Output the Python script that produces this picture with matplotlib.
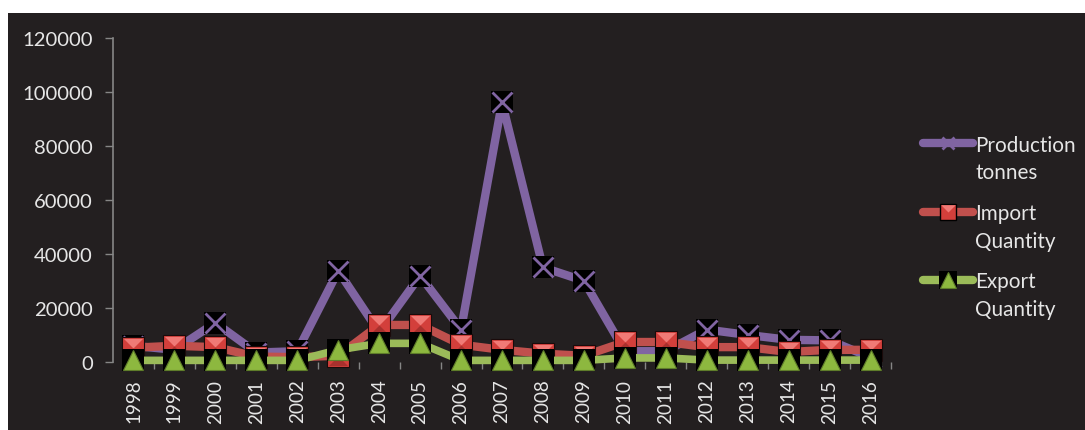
import matplotlib
matplotlib.use("Agg")
import matplotlib.pyplot as plt
import numpy as np
from matplotlib.lines import Line2D
from matplotlib.patches import Rectangle
from matplotlib.path import Path
from matplotlib.ticker import FuncFormatter

# ---- data -------------------------------------------------------------
years = [str(y) for y in range(1998, 2017)]
production = [6000, 4500, 14500, 3500, 4000, 33700, 11000, 31900, 12000, 96000,
              35000, 30000, 4000, 4000, 12000, 10000, 8200, 8000, 1700]
imports = [5300, 6000, 5500, 2000, 1800, 2300, 13700, 13700, 6400, 4500,
           3100, 2300, 7400, 7400, 5500, 5500, 3700, 4500, 4500]
exports = [600, 600, 600, 600, 600, 4500, 6900, 6900, 600, 600,
           600, 600, 1500, 1500, 700, 700, 700, 700, 700]
series_names = ["Production tonnes", "Import Quantity", "Export Quantity"]
y_ticks = [0, 20000, 40000, 60000, 80000, 100000, 120000]

# ---- style ------------------------------------------------------------
plt.rcParams['font.family'] = ['Lato', 'DejaVu Sans']
W, H, DPI = 1085, 431, 100
BG = '#231F20'
TXT = '#E6E6E6'
AXC = '#868686'
PURPLE = '#8064A2'
RED = '#C0504D'
GREEN = '#9BBB59'
MS = 15.8  # marker box, points
FS = 14.6

# bevel pieces for the square marker
top_tri = Path([(-1, 1), (1, 1), (0, 0), (-1, 1)], closed=True)
bot_tri = Path([(-1, -1), (1, -1), (0, 0), (-1, -1)], closed=True)

fig = plt.figure(figsize=(W / DPI, H / DPI), dpi=DPI, facecolor='white')
fig.add_artist(Rectangle((8 / W, 0), 1 - 8 / W, (H - 14) / H,
                         transform=fig.transFigure, facecolor=BG,
                         edgecolor='none', zorder=-10))

ax = fig.add_axes([113 / W, (H - 363) / H, (891 - 113) / W, (363 - 38.5) / H])
ax.patch.set_alpha(0)

x = np.arange(len(years))

# production: purple line, black boxes with purple crosses
ax.plot(x, production, color=PURPLE, lw=6, solid_capstyle='round',
        solid_joinstyle='round', zorder=2, clip_on=False)
ax.plot(x, production, ls='none', marker='s', ms=MS, mfc='black', mec='black',
        mew=0, zorder=2.1, clip_on=False)
ax.plot(x, production, ls='none', marker='x', ms=MS - 1, mec=PURPLE, mew=2,
        zorder=2.2, clip_on=False)

# imports: red line, bevelled red squares
ax.plot(x, imports, color=RED, lw=6, solid_capstyle='round',
        solid_joinstyle='round', zorder=3, clip_on=False)
ax.plot(x, imports, ls='none', marker='s', ms=MS, mfc='#D33F3B', mec='#1a0a0a',
        mew=0.8, zorder=3.1, clip_on=False)
ax.plot(x, imports, ls='none', marker=top_tri, ms=MS - 2, mfc='#F07A76',
        mec='none', zorder=3.2, clip_on=False)
ax.plot(x, imports, ls='none', marker=bot_tri, ms=MS - 2, mfc='#A8302D',
        mec='none', zorder=3.2, clip_on=False)

# exports: green line, black boxes with green triangles
ax.plot(x, exports, color=GREEN, lw=5.5, solid_capstyle='round',
        solid_joinstyle='round', zorder=4, clip_on=False)
ax.plot(x, exports, ls='none', marker='s', ms=MS, mfc='black', mec='black',
        mew=0, zorder=4.1, clip_on=False)
ax.plot(x, exports, ls='none', marker='^', ms=MS - 1.2, mfc='#8DB83F',
        mec='#5F7D2A', mew=0.8, zorder=4.2, clip_on=False)

# ---- axes -------------------------------------------------------------
ax.set_xlim(-0.5, len(years) - 0.5)
ax.set_ylim(y_ticks[0], y_ticks[-1])
for s in ('top', 'right', 'bottom'):
    ax.spines[s].set_visible(False)
ax.spines['left'].set_color(AXC)
ax.spines['left'].set_linewidth(1.2)

ax.set_yticks(y_ticks)
ax.yaxis.set_major_formatter(FuncFormatter(lambda v, p: f"{v:.0f}"))
ax.tick_params(axis='y', colors=AXC, length=5.5, width=1, labelcolor=TXT,
               labelsize=FS, pad=9)

ax.set_xticks(x)
ax.set_xticklabels(years, rotation=90)
ax.set_xticks(np.arange(0.5, len(years), 1.0), minor=True)
ax.tick_params(axis='x', which='major', length=0, labelcolor=TXT,
               labelsize=13.6, pad=12)
ax.tick_params(axis='x', which='minor', length=5, width=1, colors=AXC)

# ---- legend (drawn in figure pixels) -----------------------------------
def fx(px):
    return px / W


def fy(py):
    return 1 - py / H


leg_centres = [144.3, 212.7, 280.5]
leg_colors = [PURPLE, RED, GREEN]
for name, yc, col in zip(series_names, leg_centres, leg_colors):
    fig.add_artist(Line2D([fx(923), fx(973)], [fy(yc), fy(yc)],
                          transform=fig.transFigure, color=col, lw=6,
                          solid_capstyle='round'))
    for i, word in enumerate(name.split(' ')):
        fig.text(fx(975), fy(yc + 7.5 + 27.5 * i), word, ha='left',
                 va='baseline', fontsize=FS + 0.3, color=TXT)

cx = fx(948)
fig.add_artist(Line2D([cx], [fy(leg_centres[0])], transform=fig.transFigure,
                      ls='none', marker='x', ms=9, mec=PURPLE, mew=2))
fig.add_artist(Line2D([cx], [fy(leg_centres[1])], transform=fig.transFigure,
                      ls='none', marker='s', ms=12, mfc='#D33F3B',
                      mec='black', mew=1))
fig.add_artist(Line2D([cx], [fy(leg_centres[1])], transform=fig.transFigure,
                      ls='none', marker=top_tri, ms=10.5, mfc='#F07A76',
                      mec='none'))
fig.add_artist(Line2D([cx], [fy(leg_centres[2])], transform=fig.transFigure,
                      ls='none', marker='s', ms=13, mfc='black', mec='black',
                      mew=0))
fig.add_artist(Line2D([cx], [fy(leg_centres[2])], transform=fig.transFigure,
                      ls='none', marker='^', ms=11.5, mfc='#8DB83F',
                      mec='#5F7D2A', mew=0.8))

fig.savefig('out.png', dpi=DPI, facecolor=fig.get_facecolor())
